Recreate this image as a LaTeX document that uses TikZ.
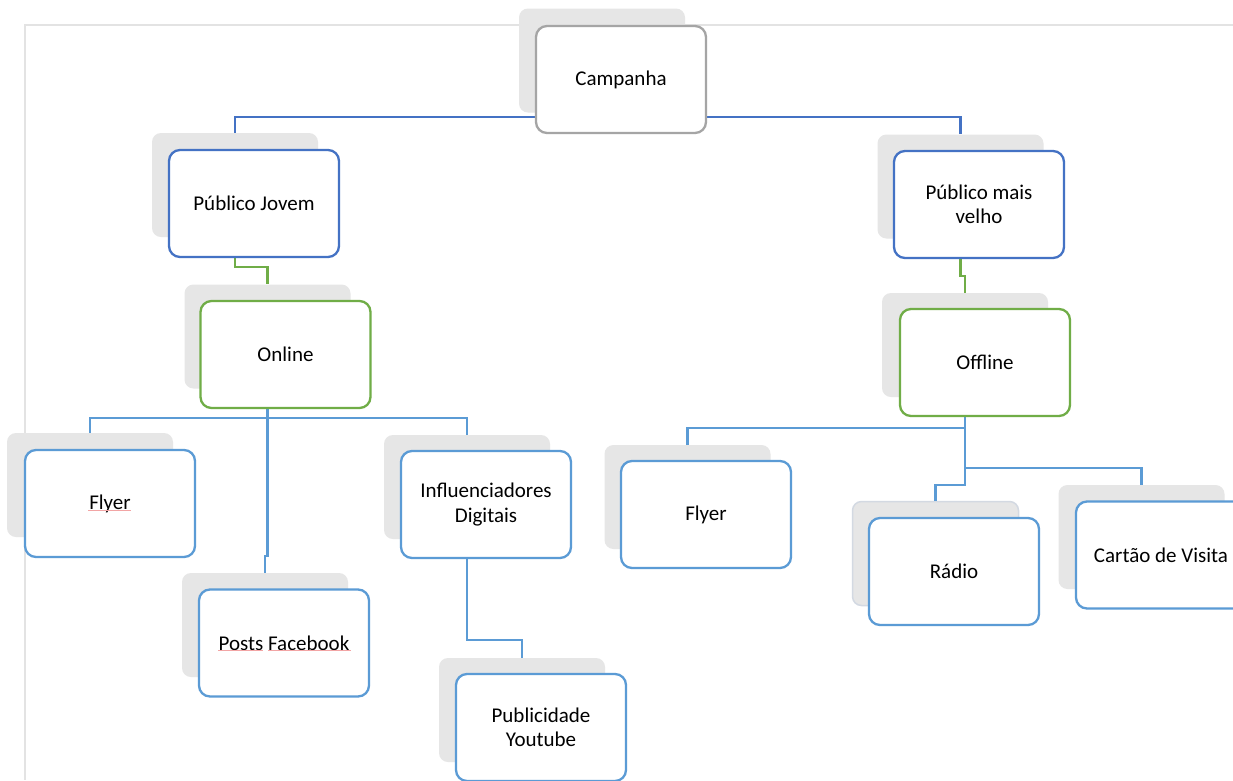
\documentclass[tikz,border=0pt]{standalone}
\usepackage{fontspec}
\setmainfont{Carlito}
\definecolor{campc}{HTML}{A5A5A5}
\definecolor{dblue}{HTML}{4472C4}
\definecolor{mygreen}{HTML}{70AD47}
\definecolor{lblue}{HTML}{5B9BD5}
\definecolor{shadowc}{HTML}{E6E6E6}
\definecolor{framec}{HTML}{E3E3E3}
\definecolor{spellc}{HTML}{F2A5A5}
\definecolor{radioc}{HTML}{D3D9E2}
\begin{document}
\begin{tikzpicture}[x=1pt,y=-1pt,
  mainbox/.style={draw, line width=2.3pt, rounded corners=11pt, fill=white,
    minimum width=170pt, minimum height=107pt, align=center, inner sep=0pt,
    font=\fontsize{21}{24.5}\selectfont},
  shadowbox/.style={fill=shadowc, rounded corners=9pt, minimum width=166pt,
    minimum height=104pt, inner sep=0pt},
  topc/.style={draw=dblue, line width=2.3pt},
  greenc/.style={draw=mygreen, line width=2.3pt},
  leafc/.style={draw=lblue, line width=2.3pt},
  spell/.style={draw=spellc, line width=0.8pt}]
\useasboundingbox (0,0) rectangle (1233,780);
\clip (0,0) rectangle (1233,780);
\fill[white] (0,0) rectangle (1233,780);
% page frame
\draw[framec, line width=1.6pt] (25,780) -- (25,25) -- (1233,25);

% shadows
\node[shadowbox] (cs)   at (602,60.5) {};
\node[shadowbox] (pjs)  at (235,185) {};
\node[shadowbox] (ons)  at (267.5,336.5) {};
\node[shadowbox] (fls)  at (90,485) {};
\node[shadowbox] (pos)  at (265,625) {};
\node[shadowbox] (ins)  at (467,487) {};
\node[shadowbox] (pys)  at (522,710) {};
\node[shadowbox] (pms)  at (960.5,186.5) {};
\node[shadowbox] (ofs)  at (965,345) {};
\node[shadowbox] (frs)  at (687.5,497) {};
\node[shadowbox, draw=radioc, line width=1.5pt] (ras) at (935.5,553.5) {};
\node[shadowbox] (cts)  at (1141.5,537) {};

% connectors
\draw[topc] (cs.south) -- ++(0,4) -| (pjs.north);
\draw[topc] (cs.south) -- ++(0,4) -| (pms.north);
\draw[greenc] (pjs.south) -- ++(0,30) -| (ons.north);
\draw[greenc] (pms.south) -- ++(0,37) -| (ofs.north);
\draw[leafc] (ons.south) -- ++(0,29) -| (fls.north);
\draw[leafc] (ons.south) -- ++(0,29) -| (ins.north);
\draw[leafc] (ons.south) -- ++(0,167) -| (pos.north);
\draw[leafc] (ins.south) -- ++(0,101) -| (pys.north);
\draw[leafc] (ofs.south) -- ++(0,31) -| (frs.north);
\draw[leafc] (ofs.south) -- ++(0,71) -| (cts.north);
\draw[leafc] (ofs.south) -- ++(0,88) -| (ras.north);

% main boxes
\node[mainbox, draw=campc] (camp) at (621,79.5) {Campanha};
\node[mainbox, draw=dblue] (pj) at (254,203.5) {Público Jovem};
\node[mainbox, draw=dblue] (pm) at (979,204.5) {Público mais\\velho};
\node[mainbox, draw=mygreen] (on) at (285.5,354.5) {Online};
\node[mainbox, draw=mygreen] (of) at (985,362.5) {Offline};
\node[mainbox, draw=lblue] (fl) at (110,503.5) {Flyer};
\node[mainbox, draw=lblue] (po) at (284,643) {Posts Facebook};
\node[mainbox, draw=lblue] (in) at (486,504.5) {Influenciadores\\Digitais};
\node[mainbox, draw=lblue] (py) at (541,727.5) {Publicidade\\Youtube};
\node[mainbox, draw=lblue] (fr) at (706,514.5) {Flyer};
\node[mainbox, draw=lblue] (ra) at (954,571.5) {Rádio};
\node[mainbox, draw=lblue] (ct) at (1161,555) {Cartão de Visita};

% spell-check underlines
\draw[spell] (fl.center) ++(-22,7) -- ++(43,0);
\draw[spell] (po.center) ++(-66,7) -- ++(45,0);
\draw[spell] (po.center) ++(-16,7) -- ++(83,0);
\end{tikzpicture}
\end{document}
